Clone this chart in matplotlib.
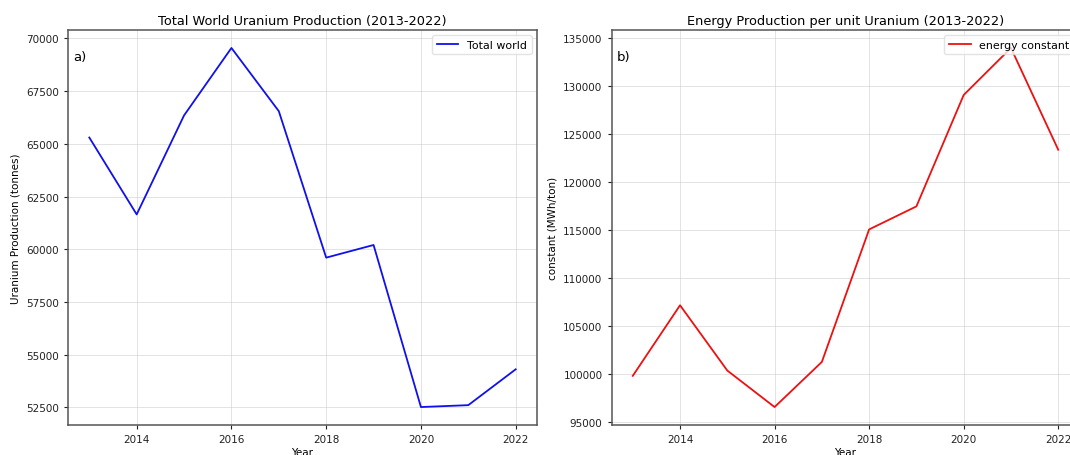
import matplotlib
matplotlib.use("Agg")
import matplotlib.pyplot as plt

years = [2013, 2014, 2015, 2016, 2017, 2018, 2019, 2020, 2021, 2022]
world_uranium = [65300, 61650, 66350, 69550, 66550, 59600, 60200, 52510, 52600, 54300]
energy_constant = [99850, 107200, 100400, 96600, 101300, 115100, 117500, 129100, 134000, 123400]

W, H = 1070, 456
fig = plt.figure(figsize=(W / 100, H / 100), dpi=100)

# axes placed in pixel units; the right panel runs past the figure edge
ax1 = fig.add_axes([68 / W, 30 / H, 469 / W, 395 / H])
ax2 = fig.add_axes([611.5 / W, 30 / H, 468 / W, 395 / H])

ax1.plot(years, world_uranium, color="#1010ee", lw=1.3, label="Total world")
ax1.set_title("Total World Uranium Production (2013-2022)", fontsize=9.3, pad=4)
ax1.set_ylabel("Uranium Production (tonnes)", fontsize=7.5)
ax1.set_xlabel("Year", fontsize=7.5, labelpad=2)
ax1.text(0.012, 0.925, "a)", transform=ax1.transAxes, fontsize=9.5)

ax2.plot(years, energy_constant, color="#ee1010", lw=1.3, label="energy constant")
ax2.set_title("Energy Production per unit Uranium (2013-2022)", fontsize=9.3, pad=4)
ax2.set_ylabel("constant (MWh/ton)", fontsize=7.5)
ax2.set_xlabel("Year", fontsize=7.5, labelpad=2)
ax2.text(0.012, 0.925, "b)", transform=ax2.transAxes, fontsize=9.5)

for ax in (ax1, ax2):
    ax.grid(True, color="#d0d0d0", lw=0.7, alpha=0.6)
    ax.tick_params(labelsize=7.5, length=3, width=0.8, colors="#222222")
    for s in ax.spines.values():
        s.set_color("#555555")
        s.set_linewidth(1.1)
    ax.legend(loc="upper right", fontsize=7.9, handlelength=2, borderpad=0.4,
              framealpha=0.8, edgecolor="#dddddd")

fig.savefig("out.png", dpi=100)
